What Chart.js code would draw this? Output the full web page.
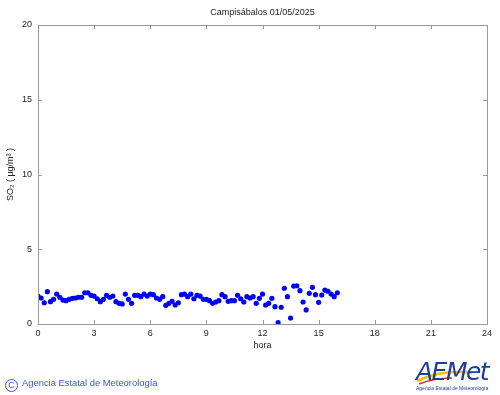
<!DOCTYPE html>
<html><head><meta charset="utf-8">
<script src="https://cdn.jsdelivr.net/npm/chart.js@4"></script>
<style>
html,body{margin:0;padding:0;background:#fff;}
#wrap{position:relative;width:500px;height:395px;overflow:hidden;}
#c{position:absolute;left:0;top:0;}
#foot{position:absolute;left:5px;top:377px;font:9.4px "Liberation Sans",Arial,sans-serif;color:#3b55d6;white-space:nowrap;}
#foot .cc{display:inline-block;width:11px;height:11px;border:1px solid #3b55d6;border-radius:50%;text-align:center;line-height:11px;font-size:9px;vertical-align:-2px;margin-right:4px;}
#logo{position:absolute;left:412px;top:352px;}
</style></head>
<body><div id="wrap">
<canvas id="c" width="500" height="395"></canvas>
<div id="foot"><span class="cc">C</span>Agencia Estatal de Meteorología</div>
<svg id="logo" width="88" height="42" viewBox="0 0 88 42">
  <path d="M5 29 Q 30 17 60 21" stroke="#f2c200" stroke-width="2.6" fill="none"/>
  <path d="M7 32 Q 22 26 40 26" stroke="#d8242a" stroke-width="1.4" fill="none"/>
  <text x="4" y="28" font-family="DejaVu Sans" font-weight="200" font-style="italic" font-size="25" fill="#1d3f96" letter-spacing="-1.5">AEMet</text>
  <text x="4" y="37.5" font-family="Liberation Sans" font-size="5" fill="#1d3f96">Agencia Estatal de Meteorología</text>
</svg>
</div>
<script>
const stationTitle = 'Campisábalos 01/05/2025';
const xAxisLabel = 'hora';
const yAxisLabel = 'SO\u2082 ( µg/m\u00B3 )';
const xTicks = [0, 3, 6, 9, 12, 15, 18, 21, 24];
const yTicks = [0, 5, 10, 15, 20];
const startHour = 0;
const intervalMinutes = 10;
const so2Values = [
  1.87,1.74,1.42,2.16,1.49,1.65,2.0,1.79,1.6,1.56,1.65,1.72,1.74,1.79,1.79,2.09,2.09,1.92,1.87,1.69,
  1.49,1.65,1.92,1.79,1.87,1.49,1.38,1.34,2.0,1.65,1.38,1.92,1.92,1.83,2.0,1.87,
  2.0,1.96,1.74,1.65,1.83,1.25,1.38,1.52,1.27,1.42,1.96,2.0,1.83,2.0,1.69,1.92,1.87,1.65,1.65,1.56,
  1.38,1.47,1.56,1.96,1.83,1.52,1.56,1.56,1.92,1.69,1.47,1.83,1.74,
  1.83,1.38,1.72,2.0,1.27,1.38,1.72,1.16,0.09,1.12,2.39,1.83,0.4,2.54,2.56,2.23,1.47,0.94,2.05,2.45,
  1.96,1.45,1.94,2.27,2.19,2.0,1.83,2.09
];

const points = so2Values.map((v, i) => ({ x: startHour + i * intervalMinutes / 60, y: v }));

const FONT = { family: '"Liberation Sans", Arial, sans-serif', size: 9 };

const framePlugin = {
  id: 'frame',
  afterDraw(chart) {
    const { ctx, chartArea: a, scales } = chart;
    ctx.save();
    ctx.strokeStyle = '#9a9a9a';
    ctx.lineWidth = 1;
    ctx.strokeRect(Math.round(a.left) + 0.5, Math.round(a.top) + 0.5, Math.round(a.right - a.left), Math.round(a.bottom - a.top));
    ctx.beginPath();
    const L = 4;
    xTicks.forEach(t => {
      const px = Math.round(scales.x.getPixelForValue(t)) + 0.5;
      ctx.moveTo(px, a.bottom); ctx.lineTo(px, a.bottom - L);
      ctx.moveTo(px, a.top); ctx.lineTo(px, a.top + L);
    });
    yTicks.forEach(t => {
      const py = Math.round(scales.y.getPixelForValue(t)) + 0.5;
      ctx.moveTo(a.left, py); ctx.lineTo(a.left + L, py);
      ctx.moveTo(a.right, py); ctx.lineTo(a.right - L, py);
    });
    ctx.stroke();
    ctx.fillStyle = '#222';
    ctx.font = '9px "Liberation Sans", Arial, sans-serif';
    ctx.textAlign = 'center';
    ctx.textBaseline = 'middle';
    ctx.fillText(stationTitle, (a.left + a.right) / 2, 12.5);
    ctx.restore();
  }
};

new Chart(document.getElementById('c'), {
  type: 'scatter',
  data: { datasets: [{ data: points, backgroundColor: '#0000ff', borderColor: '#0000ff', pointRadius: 2.6, pointHoverRadius: 2.6, borderWidth: 0 }] },
  options: {
    responsive: false, animation: false, devicePixelRatio: 1,
    layout: { padding: { left: 0, right: 13, top: 25, bottom: 41 } },
    plugins: { legend: { display: false }, tooltip: { enabled: false }, title: { display: false } },
    scales: {
      x: {
        type: 'linear', min: 0, max: 24,
        afterBuildTicks: s => { s.ticks = xTicks.map(v => ({ value: v })); },
        afterFit: s => { s.height = 30; },
        ticks: { font: FONT, color: '#222', padding: 4, maxRotation: 0, autoSkip: false },
        grid: { display: false, drawTicks: false },
        border: { display: false },
        title: { display: true, text: xAxisLabel, font: FONT, color: '#222', padding: { top: 0, bottom: 3 } }
      },
      y: {
        min: 0, max: 20,
        afterBuildTicks: s => { s.ticks = yTicks.map(v => ({ value: v })); },
        afterFit: s => { s.width = 38; },
        ticks: { font: FONT, color: '#222', padding: 6 },
        grid: { display: false, drawTicks: false },
        border: { display: false },
        title: { display: true, text: yAxisLabel, font: FONT, color: '#222', padding: { top: 5, bottom: 0 } }
      }
    }
  },
  plugins: [framePlugin]
});
</script>
</body></html>
